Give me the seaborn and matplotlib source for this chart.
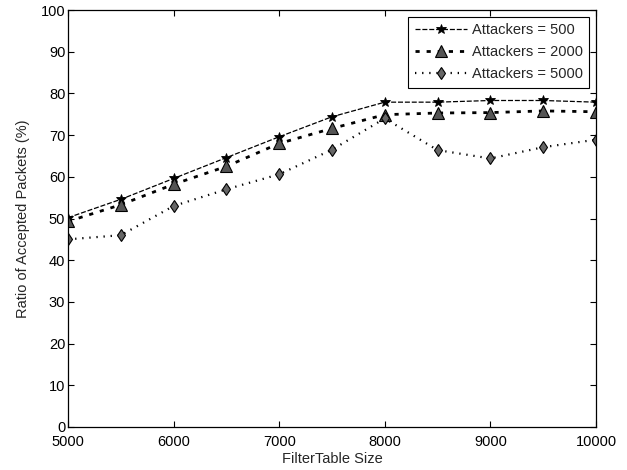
import matplotlib
matplotlib.use("Agg")
import matplotlib.pyplot as plt
import seaborn as sns
import pandas as pd

table_size = [5000, 5500, 6000, 6500, 7000, 7500, 8000, 8500, 9000, 9500, 10000]
attackers_500 = [50.2, 54.6, 59.6, 64.6, 69.6, 74.4, 77.9, 77.9, 78.3, 78.3, 77.9]
attackers_2000 = [49.3, 53.3, 58.2, 62.5, 68.0, 71.6, 74.9, 75.3, 75.4, 75.8, 75.6]
attackers_5000 = [45.0, 46.0, 53.0, 57.0, 60.6, 66.5, 74.0, 66.4, 64.4, 67.1, 68.9]
labels = ["Attackers = 500", "Attackers = 2000", "Attackers = 5000"]
x_ticks = [5000, 6000, 7000, 8000, 9000, 10000]
y_ticks = list(range(0, 101, 10))

sns.set_theme(style="white")
plt.rcParams['font.family'] = ['Liberation Sans', 'DejaVu Sans']

fig = plt.figure(figsize=(6.27, 4.70), dpi=100)
ax = fig.add_axes([0.1085, 0.0915, 0.842, 0.8872])

series = [attackers_500, attackers_2000, attackers_5000]
styles = [
    dict(marker='*', markersize=7, linewidth=0.9, linestyle=(0, (4, 1.5)),
         markerfacecolor='black', markeredgecolor='black', markeredgewidth=0.6),
    dict(marker='^', markersize=8, linewidth=2.0, linestyle=(0, (1.5, 2.5)),
         markerfacecolor='#555555', markeredgecolor='black', markeredgewidth=0.8),
    dict(marker='d', markersize=6, linewidth=1.6, linestyle=(0, (0.6, 2.6)),
         markerfacecolor='#666666', markeredgecolor='black', markeredgewidth=0.8),
]
for vals, lab, st in zip(series, labels, styles):
    df = pd.DataFrame({"size": table_size, "ratio": vals})
    sns.lineplot(data=df, x="size", y="ratio", ax=ax, color='black', label=lab, **st)

ax.set_xlim(5000, 10000)
ax.set_ylim(0, 100)
ax.set_xticks(x_ticks)
ax.set_yticks(y_ticks)
ax.set_xticklabels([str(t) for t in x_ticks])
ax.set_yticklabels([str(t) for t in y_ticks])
ax.tick_params(direction='in', length=4, width=0.8, colors='black', labelsize=10.5,
               top=True, right=True, bottom=True, left=True)
ax.tick_params(axis='x', pad=6)
ax.tick_params(axis='y', pad=2)
for s in ax.spines.values():
    s.set_color('black')
    s.set_linewidth(0.9)
ax.set_xlabel("FilterTable Size", fontsize=10.5, labelpad=2)
ax.set_ylabel("Ratio of Accepted Packets (%)", fontsize=10.5, labelpad=8)

leg = ax.legend(loc='upper right', fontsize=10.5, frameon=True, fancybox=False,
                edgecolor='black', framealpha=1, borderpad=0.45, handlelength=3.6,
                handletextpad=0.3, labelspacing=0.55, borderaxespad=0.45)
leg.get_frame().set_linewidth(0.8)

fig.savefig("out.png", dpi=100)
